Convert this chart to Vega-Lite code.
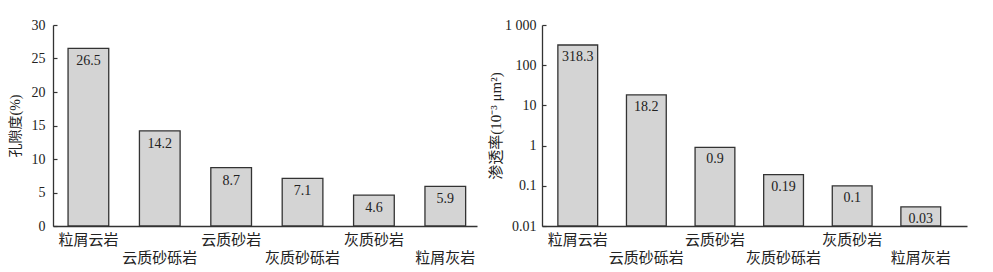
{
  "$schema": "https://vega.github.io/schema/vega-lite/v6.json",
  "padding": {"left": 8, "top": 18, "right": 2, "bottom": 2},
  "autosize": {"type": "pad"},
  "spacing": 11,
  "config": {
    "view": {"stroke": null},
    "font": "Liberation Serif, Noto Sans CJK SC",
    "axis": {
      "grid": false,
      "domainColor": "#333",
      "domainWidth": 1.3,
      "tickColor": "#333",
      "tickWidth": 1.2,
      "labelColor": "#222",
      "titleColor": "#222",
      "labelFont": "Liberation Serif, Noto Sans CJK SC",
      "titleFont": "Liberation Serif, Noto Sans CJK SC",
      "titleFontWeight": "normal"
    }
  },
  "datasets": {
    "rocks": [
      {"rock": "粒屑云岩", "porosity": 26.5, "perm": 318.3},
      {"rock": "云质砂砾岩", "porosity": 14.2, "perm": 18.2},
      {"rock": "云质砂岩", "porosity": 8.7, "perm": 0.9},
      {"rock": "灰质砂砾岩", "porosity": 7.1, "perm": 0.19},
      {"rock": "灰质砂岩", "porosity": 4.6, "perm": 0.1},
      {"rock": "粒屑灰岩", "porosity": 5.9, "perm": 0.03}
    ]
  },
  "hconcat": [
    {
      "width": 424,
      "height": 201,
      "data": {"name": "rocks"},
      "encoding": {
        "x": {
          "field": "rock",
          "type": "nominal",
          "sort": null,
          "scale": {"paddingInner": 0.43, "paddingOuter": 0.185, "align": 0.57},
          "axis": {
            "title": null,
            "ticks": false,
            "labelAngle": 0,
            "labelFontSize": 15,
            "labelPadding": 6,
            "labelLineHeight": 18,
            "labelExpr": "indexof(['云质砂砾岩','灰质砂砾岩','粒屑灰岩'], datum.value) >= 0 ? ['', datum.label] : datum.label"
          }
        },
        "y": {
          "field": "porosity",
          "type": "quantitative",
          "scale": {"domain": [0, 30]},
          "axis": {
            "title": "孔隙度(%)",
            "titleFontSize": 14,
            "titlePadding": 9,
            "values": [0, 5, 10, 15, 20, 25, 30],
            "labelOverlap": false,
            "labelFontSize": 14,
            "tickSize": -4,
            "labelPadding": 12
          }
        }
      },
      "layer": [
        {
          "mark": {"type": "bar", "fill": "#d4d4d4", "stroke": "#333", "strokeWidth": 1.3}
        },
        {
          "mark": {"type": "text", "baseline": "middle", "dy": 13, "fontSize": 14, "color": "#222"},
          "encoding": {
            "text": {"field": "porosity", "type": "nominal"}
          }
        },
        {
          "data": {"values": [{"tag": "(a)"}]},
          "mark": {"type": "text", "align": "left", "baseline": "middle", "dx": 4, "dy": 3, "fontSize": 14, "color": "#222"},
          "encoding": {
            "x": {"datum": "粒屑云岩", "bandPosition": 0},
            "y": {"datum": 30},
            "text": {"field": "tag"}
          }
        }
      ]
    },
    {
      "width": 425,
      "height": 201,
      "data": {"name": "rocks"},
      "encoding": {
        "x": {
          "field": "rock",
          "type": "nominal",
          "sort": null,
          "scale": {"paddingInner": 0.42, "paddingOuter": 0.3075, "align": 0.376},
          "axis": {
            "title": null,
            "ticks": false,
            "labelAngle": 0,
            "labelFontSize": 15,
            "labelPadding": 6,
            "labelLineHeight": 18,
            "labelExpr": "indexof(['云质砂砾岩','灰质砂砾岩','粒屑灰岩'], datum.value) >= 0 ? ['', datum.label] : datum.label"
          }
        },
        "y": {
          "field": "perm",
          "type": "quantitative",
          "scale": {"type": "log", "domain": [0.01, 1000]},
          "axis": {
            "title": "渗透率(10⁻³ μm²)",
            "titleFontSize": 15,
            "titlePadding": 1,
            "values": [0.01, 0.1, 1, 10, 100, 1000],
            "labelOverlap": false,
            "labelExpr": "datum.value >= 1000 ? '1 000' : toString(datum.value)",
            "labelFontSize": 14,
            "tickSize": -4,
            "labelPadding": 10
          }
        }
      },
      "layer": [
        {
          "mark": {"type": "bar", "fill": "#d4d4d4", "stroke": "#333", "strokeWidth": 1.3},
          "encoding": {
            "y2": {"datum": 0.01}
          }
        },
        {
          "mark": {"type": "text", "baseline": "middle", "dy": 12, "fontSize": 14, "color": "#222"},
          "encoding": {
            "text": {"field": "perm", "type": "nominal"}
          }
        },
        {
          "data": {"values": [{"tag": "(b)"}]},
          "mark": {"type": "text", "align": "left", "baseline": "middle", "dx": 1, "dy": 3, "fontSize": 14, "color": "#222"},
          "encoding": {
            "x": {"datum": "粒屑云岩", "bandPosition": 0},
            "y": {"datum": 1000},
            "text": {"field": "tag"}
          }
        }
      ]
    }
  ]
}
